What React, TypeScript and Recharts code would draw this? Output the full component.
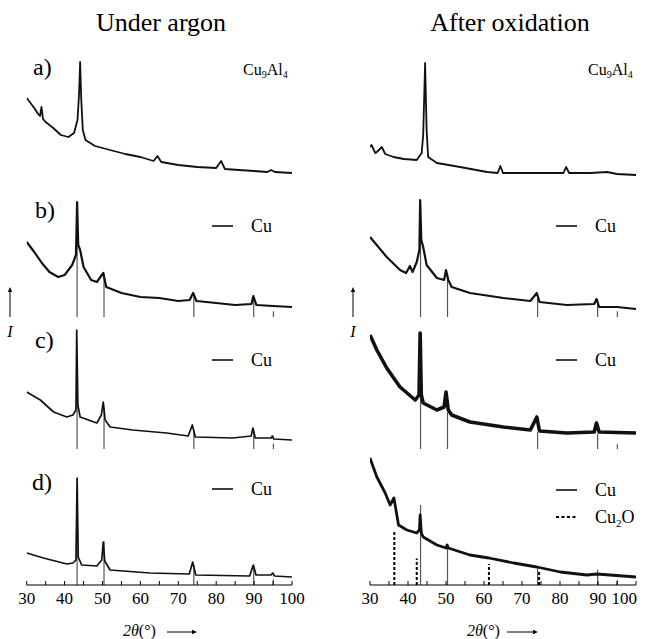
import { LineChart, Line, XAxis, YAxis, ReferenceLine } from "recharts";

// x ticks (2θ, degrees); labels only on multiples of 10
const TICKS = [30, 35, 40, 45, 50, 55, 60, 65, 70, 75, 80, 85, 90, 95, 100];

// reference stick patterns
const CU_POS = [43.3, 50.4, 74.1, 89.9, 95.1];
const CU_REL = [100, 46, 21, 19, 6];
const CU2O_POS = [36.4, 42.3, 61.3, 74.5];
const CU2O_REL = [100, 48, 38, 26];

// stacking offsets for patterns a, b, c, d
const OFFSETS = [400, 268, 136, 0];
const ARGON_STICK_SCALE = [0, 0.95, 0.9, 0.95];
const OXID_STICK_SCALE = [0, 0.95, 0.8, 0.8];

// Under argon — [2θ, intensity]
const argonA = [
  [30, 87], [31, 82], [32, 77], [33, 71], [33.5, 69], [33.9, 78], [34.3, 66], [35, 63], [37, 57],
  [39, 50], [41, 48], [42.5, 52], [43.4, 65], [43.8, 90], [44.1, 123], [44.4, 85], [44.8, 55],
  [45.5, 45], [48, 39], [52, 35], [56, 31], [60, 28], [63.5, 24], [64.5, 29], [65.5, 23], [70, 20],
  [75, 18], [80, 17], [81.3, 24], [82.3, 16], [86, 15], [90, 14], [93.5, 13], [94.5, 15], [95.5, 13],
  [100, 12],
];
const argonB = [
  [30, 75], [32, 65], [34, 54], [36, 45], [38.3, 40], [40, 42], [42, 52], [43, 62], [43.3, 115],
  [43.6, 72], [44.1, 67], [45, 50], [47, 37], [48.5, 35], [50.2, 44], [51, 30], [55, 24], [60, 20],
  [65, 19], [70, 16], [73, 17], [73.9, 24], [74.8, 16], [80, 14], [85, 12], [89.3, 13], [89.8, 21],
  [90.6, 12], [95, 11], [100, 10],
];
const argonC = [
  [30, 57], [33.6, 49], [37.1, 37], [40.6, 32], [42.2, 34], [43, 39], [43.2, 119], [43.5, 44],
  [44.1, 32], [48.5, 26], [49.7, 34], [50.2, 47], [50.7, 29], [52, 22], [58, 19], [66.9, 16],
  [72.6, 13], [73.7, 24], [74.5, 12], [84.4, 11], [89.2, 13], [89.7, 21], [90.3, 11], [94.5, 11],
  [94.8, 13], [95.2, 10], [100, 9],
];
const argonD = [
  [30, 32], [34.4, 27], [40.6, 21], [42.2, 22], [43, 25], [43.3, 107], [43.6, 28], [44.5, 20],
  [48.5, 19], [49.8, 25], [50.2, 43], [50.6, 24], [52, 15], [62.5, 12], [72.9, 11], [73.8, 23],
  [74.6, 10], [88.8, 9], [89.8, 20], [90.5, 10], [94.5, 10], [94.9, 12], [95.4, 9], [100, 8],
];

// After oxidation — [2θ, intensity]
const oxidA = [
  [30, 38], [30.4, 40], [31.4, 32], [31.8, 33], [33.1, 38], [34, 31], [36.2, 28], [38.9, 26],
  [42.3, 25], [43.6, 32], [44, 50], [44.5, 122], [44.9, 55], [45.3, 28], [47.6, 22], [53.7, 18],
  [60.8, 13], [63.6, 12], [64.3, 19], [65, 12], [70, 12], [78.4, 12], [80.9, 12], [81.6, 18],
  [82.4, 12], [88, 12], [92.4, 13], [95, 11], [100, 10],
];
const oxidB = [
  [30, 80], [34.4, 60], [37.9, 47], [39.5, 44], [40.5, 51], [41.2, 45], [42.3, 55], [43, 67],
  [43.2, 117], [43.5, 77], [44, 70], [44.9, 52], [47.6, 39], [49.5, 37], [50, 47], [50.6, 37],
  [51.5, 30], [56.3, 24], [65.1, 19], [72.2, 16], [73.9, 24], [74.6, 15], [81.8, 12], [89, 13],
  [89.6, 18], [90.3, 10], [95, 10], [100, 8],
];
const oxidC = [
  [30, 114], [31.8, 99], [34.4, 81], [37.9, 62], [41.9, 49], [42.9, 54], [43.2, 116], [43.5, 54],
  [44, 46], [47.6, 39], [49.5, 42], [50, 57], [50.6, 39], [51.5, 34], [56.3, 27], [65.1, 22],
  [72.2, 19], [73.9, 32], [74.6, 18], [81.8, 16], [89, 17], [89.6, 26], [90.3, 17], [100, 16],
];
const oxidD = [
  [30, 127], [31.8, 108], [34, 92], [35.3, 80], [36.3, 87], [37.5, 60], [39.7, 55], [42.3, 52],
  [43, 55], [43.2, 70], [43.5, 52], [44, 48], [47.6, 40], [50, 37], [50.3, 40], [50.6, 37],
  [56.3, 30], [61.3, 27], [67.8, 22], [73.9, 18], [80.1, 13], [87.1, 10], [89.7, 11], [100, 8],
];

const SERIF = "'Liberation Serif', 'Times New Roman', Times, serif";
const serif = { fontFamily: SERIF };

const toRows = (pts: number[][], off: number) => pts.map(([x, y]) => ({ x, y: y + off }));

function Tick(props: any) {
  const { x, y, payload, endAnchorLast } = props;
  const major = payload.value % 10 === 0;
  const isLast = payload.value === 100 && endAnchorLast;
  return (
    <g>
      <line x1={x} x2={x} y1={y} y2={y - 4} stroke="#000" strokeWidth={1} />
      {major && (
        <text
          x={isLast ? x + 1 : x}
          y={y + 19}
          textAnchor={isLast ? "end" : "middle"}
          fontSize={17}
          style={serif}
          fill="#000"
        >
          {payload.value}
        </text>
      )}
    </g>
  );
}

type PanelProps = {
  traces: number[][][];
  widths: number[];
  scales: number[];
  withCu2O?: boolean;
  marginLeft: number;
  endAnchorLast?: boolean;
};

function Panel({ traces, widths, scales, withCu2O, marginLeft, endAnchorLast }: PanelProps) {
  const sticks: any[] = [];
  [1, 2, 3].forEach((i) => {
    CU_POS.forEach((p, k) => {
      sticks.push(
        <ReferenceLine
          key={`cu-${i}-${k}`}
          segment={[{ x: p, y: OFFSETS[i] }, { x: p, y: OFFSETS[i] + CU_REL[k] * scales[i] }]}
          stroke="#555"
          strokeWidth={1.2}
          ifOverflow="visible"
        />
      );
    });
  });
  if (withCu2O) {
    CU2O_POS.forEach((p, k) => {
      sticks.push(
        <ReferenceLine
          key={`cu2o-${k}`}
          segment={[{ x: p, y: 0 }, { x: p, y: CU2O_REL[k] * 0.55 }]}
          stroke="#000"
          strokeWidth={2}
          strokeDasharray="3 2"
          ifOverflow="visible"
        />
      );
    });
  }
  return (
    <LineChart width={320} height={639} margin={{ top: 52, right: 28, left: marginLeft, bottom: 24 }}>
      <XAxis
        type="number"
        dataKey="x"
        domain={[30, 100]}
        ticks={TICKS}
        interval={0}
        tickSize={0}
        tickMargin={0}
        tickLine={false}
        tick={(p: any) => <Tick {...p} endAnchorLast={endAnchorLast} />}
        axisLine={{ stroke: "#000", strokeWidth: 1.2 }}
        height={30}
        allowDataOverflow
      />
      <YAxis
        type="number"
        domain={[0, 533]}
        width={0}
        tick={false}
        tickLine={false}
        axisLine={{ stroke: "#000", strokeWidth: 1.2 }}
        allowDataOverflow
      />
      {sticks}
      {traces.map((t, i) => (
        <Line
          key={i}
          data={toRows(t, OFFSETS[i])}
          dataKey="y"
          type="linear"
          dot={false}
          stroke="#111"
          strokeWidth={widths[i]}
          strokeLinejoin="round"
          isAnimationActive={false}
        />
      ))}
    </LineChart>
  );
}

function Arrow({ x1, y1, x2, y2 }: { x1: number; y1: number; x2: number; y2: number }) {
  const ang = Math.atan2(y2 - y1, x2 - x1);
  const L = 5;
  const W = 2.2;
  const bx = x2 - L * Math.cos(ang);
  const by = y2 - L * Math.sin(ang);
  const px = -Math.sin(ang) * W;
  const py = Math.cos(ang) * W;
  return (
    <g>
      <line x1={x1} y1={y1} x2={bx} y2={by} stroke="#000" strokeWidth={1} />
      <polygon points={`${x2},${y2} ${bx + px},${by + py} ${bx - px},${by - py}`} fill="#000" />
    </g>
  );
}

function CuLegend({ dashX, textX, y }: { dashX: number; textX: number; y: number }) {
  return (
    <g>
      <line x1={dashX} x2={dashX + 21} y1={y} y2={y} stroke="#000" strokeWidth={1.5} />
      <text x={textX} y={y + 6} fontSize={18} style={serif}>Cu</text>
    </g>
  );
}

function Cu9Al4({ x, y }: { x: number; y: number }) {
  return (
    <text x={x} y={y} fontSize={16} style={serif}>
      Cu<tspan fontSize={10} dy={3}>9</tspan>
      <tspan dy={-3}>Al</tspan>
      <tspan fontSize={10} dy={3}>4</tspan>
    </text>
  );
}

function Overlay() {
  return (
    <svg
      width={647}
      height={639}
      style={{ position: "absolute", left: 0, top: 0, pointerEvents: "none", fontFamily: SERIF }}
      fill="#000"
    >
      <text x={161} y={31} fontSize={26} textAnchor="middle" style={serif}>Under argon</text>
      <text x={510} y={31} fontSize={26} textAnchor="middle" style={serif}>After oxidation</text>

      <text x={33} y={75} fontSize={24} style={serif}>a)</text>
      <text x={35} y={218} fontSize={24} style={serif}>b)</text>
      <text x={35} y={348} fontSize={24} style={serif}>c)</text>
      <text x={32} y={490} fontSize={24} style={serif}>d)</text>

      <Cu9Al4 x={243} y={75} />
      <Cu9Al4 x={588} y={75} />

      <CuLegend dashX={212} textX={251} y={226} />
      <CuLegend dashX={212} textX={251} y={360} />
      <CuLegend dashX={212} textX={251} y={489} />
      <CuLegend dashX={556} textX={595} y={226} />
      <CuLegend dashX={556} textX={595} y={360} />
      <CuLegend dashX={556} textX={595} y={490} />
      <line x1={556} x2={577} y1={517} y2={517} stroke="#000" strokeWidth={2} strokeDasharray="3 2.5" />
      <text x={595} y={523} fontSize={18} style={serif}>
        Cu<tspan fontSize={11} dy={4}>2</tspan>
        <tspan dy={-4}>O</tspan>
      </text>

      <Arrow x1={10} y1={317} x2={10} y2={287} />
      <text x={10} y={337} fontSize={16} fontStyle="italic" textAnchor="middle" style={serif}>I</text>
      <Arrow x1={353} y1={317} x2={353} y2={287} />
      <text x={353} y={337} fontSize={16} fontStyle="italic" textAnchor="middle" style={serif}>I</text>

      <text x={123} y={636} fontSize={16} style={serif}>
        <tspan fontStyle="italic">2θ</tspan>(°)
      </text>
      <Arrow x1={167} y1={632} x2={197} y2={632} />
      <text x={467} y={636} fontSize={16} style={serif}>
        <tspan fontStyle="italic">2θ</tspan>(°)
      </text>
      <Arrow x1={507} y1={632} x2={538} y2={632} />
    </svg>
  );
}

export default function App() {
  return (
    <div style={{ position: "absolute", left: 0, top: 0, width: 647, height: 639, background: "#fff", overflow: "hidden" }}>
      <div style={{ position: "absolute", left: 0, top: 0 }}>
        <Panel
          traces={[argonA, argonB, argonC, argonD]}
          widths={[1.8, 2.2, 1.7, 1.7]}
          scales={ARGON_STICK_SCALE}
          marginLeft={26.7}
        />
      </div>
      <div style={{ position: "absolute", left: 344, top: 0 }}>
        <Panel
          traces={[oxidA, oxidB, oxidC, oxidD]}
          widths={[1.8, 2.2, 3.6, 2.8]}
          scales={OXID_STICK_SCALE}
          withCu2O
          marginLeft={26}
          endAnchorLast
        />
      </div>
      <Overlay />
    </div>
  );
}
